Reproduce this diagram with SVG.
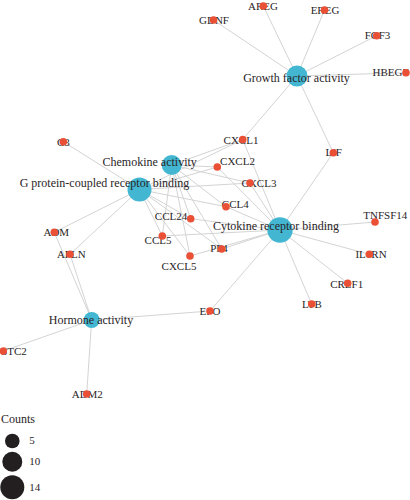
<svg xmlns="http://www.w3.org/2000/svg" width="410" height="500" viewBox="0 0 410 500">
<style>
.e{stroke:#d4d4d4;stroke-width:1;fill:none}
.hub{fill:#43b7d2}
.g{fill:#ea5035}
.t{font-family:"Liberation Serif",serif;font-size:12px;fill:#2a2526;text-anchor:middle}
.s{font-family:"Liberation Serif",serif;font-size:11px;fill:#2a2526;text-anchor:middle}
.lt{font-family:"Liberation Serif",serif;font-size:12px;fill:#2a2526;text-anchor:start}
.lg{fill:#231f20}
</style>
<rect width="410" height="500" fill="#ffffff"/>
<g id="connectors">
<line class="e" x1="297" y1="76" x2="213.5" y2="20"/>
<line class="e" x1="297" y1="76" x2="263.3" y2="6"/>
<line class="e" x1="297" y1="76" x2="324.5" y2="10"/>
<line class="e" x1="297" y1="76" x2="376.7" y2="35.7"/>
<line class="e" x1="297" y1="76" x2="406" y2="72.7"/>
<line class="e" x1="297" y1="76" x2="242.7" y2="139.5"/>
<line class="e" x1="297" y1="76" x2="333.3" y2="152.7"/>
<line class="e" x1="171.7" y1="165" x2="242.7" y2="139.5"/>
<line class="e" x1="171.7" y1="165" x2="217.3" y2="167"/>
<line class="e" x1="171.7" y1="165" x2="250" y2="183"/>
<line class="e" x1="171.7" y1="165" x2="226" y2="206.7"/>
<line class="e" x1="171.7" y1="165" x2="190.7" y2="218.7"/>
<line class="e" x1="171.7" y1="165" x2="162.3" y2="236"/>
<line class="e" x1="171.7" y1="165" x2="190" y2="256"/>
<line class="e" x1="171.7" y1="165" x2="221.7" y2="249"/>
<line class="e" x1="139.5" y1="189.5" x2="63.3" y2="141.7"/>
<line class="e" x1="139.5" y1="189.5" x2="54.3" y2="232.3"/>
<line class="e" x1="139.5" y1="189.5" x2="70" y2="254.3"/>
<line class="e" x1="139.5" y1="189.5" x2="242.7" y2="139.5"/>
<line class="e" x1="139.5" y1="189.5" x2="217.3" y2="167"/>
<line class="e" x1="139.5" y1="189.5" x2="250" y2="183"/>
<line class="e" x1="139.5" y1="189.5" x2="226" y2="206.7"/>
<line class="e" x1="139.5" y1="189.5" x2="190.7" y2="218.7"/>
<line class="e" x1="139.5" y1="189.5" x2="162.3" y2="236"/>
<line class="e" x1="139.5" y1="189.5" x2="190" y2="256"/>
<line class="e" x1="139.5" y1="189.5" x2="221.7" y2="249"/>
<line class="e" x1="280" y1="230" x2="242.7" y2="139.5"/>
<line class="e" x1="280" y1="230" x2="217.3" y2="167"/>
<line class="e" x1="280" y1="230" x2="250" y2="183"/>
<line class="e" x1="280" y1="230" x2="226" y2="206.7"/>
<line class="e" x1="280" y1="230" x2="190.7" y2="218.7"/>
<line class="e" x1="280" y1="230" x2="162.3" y2="236"/>
<line class="e" x1="280" y1="230" x2="190" y2="256"/>
<line class="e" x1="280" y1="230" x2="221.7" y2="249"/>
<line class="e" x1="280" y1="230" x2="333.3" y2="152.7"/>
<line class="e" x1="280" y1="230" x2="375" y2="222"/>
<line class="e" x1="280" y1="230" x2="369.3" y2="254.3"/>
<line class="e" x1="280" y1="230" x2="347.7" y2="283.3"/>
<line class="e" x1="280" y1="230" x2="311.7" y2="304"/>
<line class="e" x1="280" y1="230" x2="210" y2="311"/>
<line class="e" x1="91.7" y1="320" x2="54.3" y2="232.3"/>
<line class="e" x1="91.7" y1="320" x2="70" y2="254.3"/>
<line class="e" x1="91.7" y1="320" x2="210" y2="311"/>
<line class="e" x1="91.7" y1="320" x2="3.3" y2="351"/>
<line class="e" x1="91.7" y1="320" x2="86.7" y2="394"/>
</g>
<g id="hub-growth"><circle class="hub" cx="297" cy="76" r="10.5"/></g>
<g id="hub-chemokine"><circle class="hub" cx="171.7" cy="165" r="10"/></g>
<g id="hub-gpcr"><circle class="hub" cx="139.5" cy="189.5" r="12"/></g>
<g id="hub-cytokine"><circle class="hub" cx="280" cy="230" r="12.7"/></g>
<g id="hub-hormone"><circle class="hub" cx="91.7" cy="320" r="8"/></g>

<g id="n-AREG"><text class="s" x="263" y="10">AREG</text><circle class="g" cx="263.3" cy="6" r="3.8"/></g>
<g id="n-EREG"><text class="s" x="325" y="14">EREG</text><circle class="g" cx="324.5" cy="10" r="3.8"/></g>
<g id="n-GDNF"><text class="s" x="214" y="24">GDNF</text><circle class="g" cx="213.5" cy="20" r="3.8"/></g>
<g id="n-FGF3"><text class="s" x="377.5" y="39">FGF3</text><circle class="g" cx="376.7" cy="35.7" r="3.8"/></g>
<g id="n-HBEGF"><text class="s" x="390.5" y="76">HBEGF</text><circle class="g" cx="406" cy="72.7" r="3.8"/></g>
<g id="n-CXCL1"><text class="s" x="241" y="144">CXCL1</text><circle class="g" cx="242.7" cy="139.5" r="3.8"/></g>
<g id="n-LIF"><text class="s" x="333.7" y="156">LIF</text><circle class="g" cx="333.3" cy="152.7" r="3.8"/></g>
<g id="n-CXCL2"><text class="s" x="237.5" y="165">CXCL2</text><circle class="g" cx="217.3" cy="167" r="3.8"/></g>
<g id="n-CXCL3"><text class="s" x="259" y="186.5">CXCL3</text><circle class="g" cx="250" cy="183" r="3.8"/></g>
<g id="n-CCL4"><text class="s" x="235.3" y="208">CCL4</text><circle class="g" cx="226" cy="206.7" r="3.8"/></g>
<g id="n-CCL24"><text class="s" x="171" y="220">CCL24</text><circle class="g" cx="190.7" cy="218.7" r="3.8"/></g>
<g id="n-CCL5"><text class="s" x="158" y="244">CCL5</text><circle class="g" cx="162.3" cy="236" r="3.8"/></g>
<g id="n-CXCL5"><text class="s" x="179" y="270">CXCL5</text><circle class="g" cx="190" cy="256" r="3.8"/></g>
<g id="n-PF4"><text class="s" x="219" y="251.5">PF4</text><circle class="g" cx="221.7" cy="249" r="3.8"/></g>
<g id="n-TNFSF14"><text class="s" x="385.3" y="218.5">TNFSF14</text><circle class="g" cx="375" cy="222" r="3.8"/></g>
<g id="n-IL1RN"><text class="s" x="371" y="258">IL1RN</text><circle class="g" cx="369.3" cy="254.3" r="3.8"/></g>
<g id="n-CRLF1"><text class="s" x="346.7" y="287.5">CRLF1</text><circle class="g" cx="347.7" cy="283.3" r="3.8"/></g>
<g id="n-LTB"><text class="s" x="312" y="308">LTB</text><circle class="g" cx="311.7" cy="304" r="3.8"/></g>
<g id="n-EPO"><text class="s" x="210" y="314.5">EPO</text><circle class="g" cx="210" cy="311" r="3.8"/></g>
<g id="n-C3"><text class="s" x="63.3" y="145.7">C3</text><circle class="g" cx="63.3" cy="141.7" r="3.8"/></g>
<g id="n-ADM"><text class="s" x="56.3" y="236">ADM</text><circle class="g" cx="54.3" cy="232.3" r="3.8"/></g>
<g id="n-APLN"><text class="s" x="71.3" y="258">APLN</text><circle class="g" cx="70" cy="254.3" r="3.8"/></g>
<g id="n-STC2"><text class="s" x="14" y="355">STC2</text><circle class="g" cx="3.3" cy="351" r="3.8"/></g>
<g id="n-ADM2"><text class="s" x="87.3" y="398.3">ADM2</text><circle class="g" cx="86.7" cy="394" r="3.8"/></g>

<g id="labels-hubs">
<text class="t" x="296.5" y="81.5">Growth factor activity</text>
<text class="t" x="149.7" y="166">Chemokine activity</text>
<text class="t" x="104.5" y="187.3">G protein-coupled receptor binding</text>
<text class="t" x="276" y="229.5">Cytokine receptor binding</text>
<text class="t" x="91" y="324">Hormone activity</text>
</g>

<g id="legend">
<text class="lt" x="1" y="423">Counts</text>
<circle class="lg" cx="12.3" cy="441" r="7.3"/>
<text class="s" x="29.3" y="444" style="text-anchor:start">5</text>
<circle class="lg" cx="12.3" cy="461.7" r="10"/>
<text class="s" x="29.3" y="465" style="text-anchor:start">10</text>
<circle class="lg" cx="12.3" cy="487.3" r="12"/>
<text class="s" x="29.3" y="490.7" style="text-anchor:start">14</text>
</g>
</svg>
